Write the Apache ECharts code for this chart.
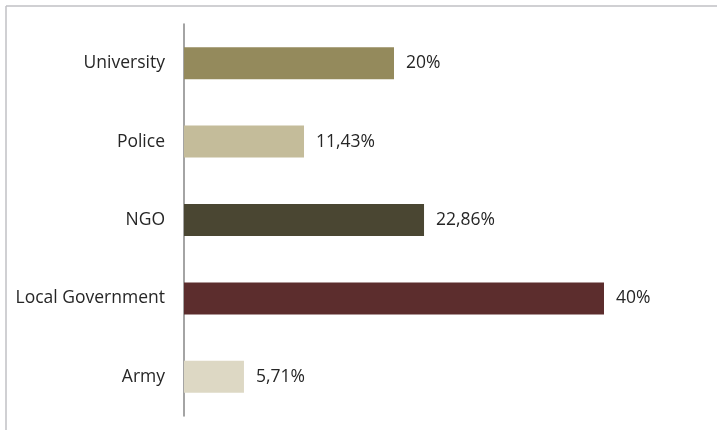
<!DOCTYPE html>
<html>
<head>
<meta charset="utf-8">
<script src="https://cdn.jsdelivr.net/npm/echarts@6/dist/echarts.min.js"></script>
<style>
  html, body { margin: 0; padding: 0; background: #fff; }
  #chart { width: 717px; height: 430px; }
</style>
</head>
<body>
<div id="chart"></div>
<script>
  // categories listed bottom to top (category axis starts at the bottom)
  const categories = ['Army', 'Local Government', 'NGO', 'Police', 'University']
  const values = [5.71, 40, 22.86, 11.43, 20]
  const valueLabels = ['5,71%', '40%', '22,86%', '11,43%', '20%']
  const barColors = ['#ddd8c4', '#5c2d2d', '#4a4632', '#c4bc9a', '#948a5c']

  const chart = echarts.init(document.getElementById('chart'))

  chart.setOption({
    animation: false,
    textStyle: {
      fontFamily: 'Open Sans'
    },
    grid: {
      left: 184,
      top: 24,
      width: 420,
      height: 392
    },
    graphic: [
      // partial frame of the original chart area
      {
        type: 'line',
        shape: {x1: 6, y1: 6, x2: 717, y2: 6},
        style: {stroke: '#c0c0c4', lineWidth: 1.5}
      },
      {
        type: 'line',
        shape: {x1: 6, y1: 6, x2: 6, y2: 430},
        style: {stroke: '#c0c0c4', lineWidth: 1.5}
      }
    ],
    xAxis: {
      type: 'value',
      min: 0,
      max: 40,
      show: false
    },
    yAxis: {
      type: 'category',
      data: categories,
      axisLine: {
        show: true,
        lineStyle: {color: '#868686', width: 1.5}
      },
      axisTick: {show: false},
      axisLabel: {
        color: '#262626',
        fontSize: 17.5,
        margin: 19
      }
    },
    series: [
      {
        type: 'bar',
        barWidth: 32,
        data: values.map((v, i) => ({
          value: v,
          itemStyle: {color: barColors[i]}
        })),
        label: {
          show: true,
          position: 'right',
          distance: 12,
          color: '#262626',
          fontSize: 17.5,
          formatter: p => valueLabels[p.dataIndex]
        }
      }
    ]
  })
</script>
</body>
</html>
